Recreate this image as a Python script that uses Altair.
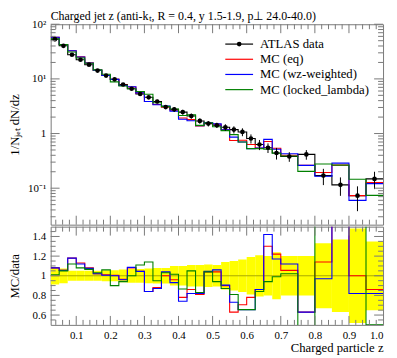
import altair as alt
import pandas as pd

# ---------------- values ----------------
bin_lo = [0.025, 0.05, 0.075, 0.1, 0.125, 0.15, 0.175, 0.2, 0.225, 0.25, 0.275, 0.3,
          0.325, 0.35, 0.375, 0.4, 0.425, 0.45, 0.475, 0.5, 0.525, 0.55, 0.575, 0.6,
          0.625, 0.65, 0.675, 0.7, 0.75, 0.8, 0.85, 0.9, 0.95]
bin_hi = [0.05, 0.075, 0.1, 0.125, 0.15, 0.175, 0.2, 0.225, 0.25, 0.275, 0.3, 0.325,
          0.35, 0.375, 0.4, 0.425, 0.45, 0.475, 0.5, 0.525, 0.55, 0.575, 0.6, 0.625,
          0.65, 0.675, 0.7, 0.75, 0.8, 0.85, 0.9, 0.95, 1.0]
data_val = [53.4, 40.3, 27.7, 22.4, 18.2, 14.2, 11.5, 9.8, 7.9, 6.6, 5.3, 4.6,
            3.86, 3.05, 2.77, 2.47, 2.09, 1.70, 1.52, 1.42, 1.30, 1.18, 1.07, 0.81,
            0.63, 0.55, 0.44, 0.38, 0.415, 0.17, 0.115, 0.073, 0.148]
data_rel_err = [0.09, 0.075, 0.05, 0.05, 0.05, 0.05, 0.055, 0.055, 0.065, 0.07, 0.07, 0.075,
                0.08, 0.08, 0.1, 0.1, 0.11, 0.11, 0.115, 0.11, 0.14, 0.15, 0.165, 0.19,
                0.21, 0.2, 0.24, 0.2, 0.2, 0.33, 0.37, 0.48, 0.35]
ratio_eq = [1.08, 1.055, 1.18, 1.13, 1.08, 1.02, 1.01, 1.005, 0.965, 1.08, 1.045, 0.84,
            0.88, 1.0, 0.96, 0.78, 0.86, 0.81, 1.04, 1.04, 0.9, 0.63, 0.705, 0.78,
            0.86, 1.3, 1.22, 1.055, 0.63, 1.14, 2.3, 1.0, 0.86]
ratio_wz = [1.08, 1.055, 1.18, 1.12, 1.075, 1.02, 1.005, 1.0, 0.96, 1.085, 1.045, 0.84,
            0.87, 1.04, 0.93, 0.74, 0.82, 0.82, 1.045, 1.06, 0.905, 0.73, 0.655, 0.655,
            0.86, 1.42, 1.17, 1.12, 0.63, 0.97, 2.5, 0.82, 0.82]
ratio_ll = [1.01, 1.05, 1.12, 1.08, 1.065, 1.03, 1.06, 0.9, 0.94, 1.0, 1.11, 1.14,
            0.95, 1.03, 1.015, 0.865, 1.05, 0.83, 1.04, 0.94, 0.87, 0.81, 0.655, 0.655,
            0.84, 0.94, 0.99, 1.02, 0.49, 1.63, 2.3, 2.0, 0.5]

series_names = ["ATLAS data", "MC (eq)", "MC (wz-weighted)", "MC (locked_lambda)"]
series_colors = ["#000000", "#ff0000", "#0000ff", "#008000"]
title_text = "Charged jet z (anti-kₜ, R = 0.4, y 1.5-1.9, p⊥ 24.0-40.0)"
x_label_vals = [0.1, 0.2, 0.3, 0.4, 0.5, 0.6, 0.7, 0.8, 0.9, 1.0]
y_main_label_vals = [0.1, 1, 10, 100]
y_ratio_label_vals = [0.6, 0.8, 1.0, 1.2, 1.4]

# ---------------- tables built from the lists ----------------
bins = pd.DataFrame({"lo": bin_lo, "hi": bin_hi, "data": data_val, "rel": data_rel_err})

ratios = {"ATLAS data": [1.0] * len(bin_lo), "MC (eq)": ratio_eq,
          "MC (wz-weighted)": ratio_wz, "MC (locked_lambda)": ratio_ll}
rows = []
for name in series_names:
    r = ratios[name]
    for i in range(len(bin_lo)):
        rows.append({"series": name, "x": bin_lo[i], "data": data_val[i], "ratio": r[i], "o": i})
    rows.append({"series": name, "x": bin_hi[-1], "data": data_val[-1], "ratio": r[-1], "o": len(bin_lo)})
steps = pd.DataFrame(rows)
mc_steps = steps[steps.series != "ATLAS data"]

x_major_ticks = [v for v in x_label_vals if v < 1.0]
x_minor = [round(0.04 + 0.02 * k, 3) for k in range(48)]
x_minor = [v for v in x_minor if abs(v * 10 - round(v * 10)) > 1e-6 and v < 1.0]
y_main_minor = [m * 10 ** e for e in (-2, -1, 0, 1) for m in range(2, 10) if m * 10 ** e > 0.0215]
y_ratio_minor = [0.55, 0.65, 0.7, 0.75, 0.85, 0.9, 0.95, 1.05, 1.1, 1.15, 1.25, 1.3, 1.35, 1.45]

# ---------------- style ----------------
W, HM, HR = 335, 202, 99
FONT = "Liberation Serif"
FRAME = "#7a7a7a"
MAJ, MINL = 9, 5

xs = alt.Scale(domain=[0.025, 1.0], nice=False, zero=False)
ys_main = alt.Scale(type="log", domain=[0.0215, 100], nice=False)
ys_ratio = alt.Scale(domain=[0.5, 1.5], nice=False, zero=False)
color_scale = alt.Scale(domain=series_names, range=series_colors)

ax_y_main = alt.Axis(
    values=y_main_label_vals, ticks=False, tickSize=0, domain=False, grid=False,
    labelExpr="datum.value == 100 ? '10²' : datum.value == 10 ? '10¹' : datum.value == 1 ? '1' : '10⁻¹'",
    labelPadding=5, minExtent=26, maxExtent=26, title="1/Nⱼₑₜ dN/dz", titlePadding=3)
ax_y_ratio = alt.Axis(
    values=y_ratio_label_vals, ticks=False, tickSize=0, domain=False, grid=False,
    labelExpr="datum.value == 1 ? '1' : format(datum.value, '.1f')",
    labelPadding=5, minExtent=26, maxExtent=26, title="MC/data", titlePadding=3)
ax_x_ratio = alt.Axis(
    values=x_label_vals, format=".1f", ticks=False, tickSize=0, domain=False, grid=False,
    labelPadding=5, title="Charged particle z", titleAnchor="end", titlePadding=1)


def xticks(vals, length, height, xaxis):
    df = pd.DataFrame({"t": vals})
    base = alt.Chart(df).mark_rule(color=FRAME, strokeWidth=1)
    bot = base.encode(x=alt.X("t:Q", scale=xs, axis=xaxis),
                      y=alt.value(height), y2=alt.value(height - length))
    top = base.encode(x=alt.X("t:Q", scale=xs, axis=xaxis),
                      y=alt.value(0), y2=alt.value(length))
    return [bot, top]


def yticks(vals, length, yscale, yaxis):
    df = pd.DataFrame({"t": vals})
    base = alt.Chart(df).mark_rule(color=FRAME, strokeWidth=1)
    left = base.encode(y=alt.Y("t:Q", scale=yscale, axis=yaxis),
                       x=alt.value(0), x2=alt.value(length))
    right = base.encode(y=alt.Y("t:Q", scale=yscale, axis=yaxis),
                        x=alt.value(W - length), x2=alt.value(W))
    return [left, right]


# ---------------- main panel ----------------
main_lines = alt.Chart(steps).transform_calculate(
    val="datum.data * datum.ratio"
).mark_line(interpolate="step-after", clip=True, strokeWidth=1.1).encode(
    x=alt.X("x:Q", scale=xs, axis=None),
    y=alt.Y("val:Q", scale=ys_main, axis=ax_y_main),
    color=alt.Color("series:N", scale=color_scale, legend=None),
    detail="series:N",
    order="o:Q",
)

main_err = alt.Chart(bins).transform_calculate(
    c="(datum.lo + datum.hi) / 2",
    e1="datum.data * (1 - datum.rel)",
    e2="datum.data * (1 + datum.rel)",
).mark_rule(color="#000000", strokeWidth=1, clip=True).encode(
    x=alt.X("c:Q", scale=xs, axis=None),
    y=alt.Y("e1:Q", scale=ys_main, axis=ax_y_main),
    y2="e2:Q",
)
main_pts = alt.Chart(bins).transform_calculate(
    c="(datum.lo + datum.hi) / 2"
).mark_point(filled=True, shape="circle", size=22, color="#000000", opacity=1).encode(
    x=alt.X("c:Q", scale=xs, axis=None),
    y=alt.Y("data:Q", scale=ys_main, axis=ax_y_main),
)

legend_layers = []
for i, (lab, col) in enumerate(zip(series_names, series_colors)):
    ly = 20 + 15.3 * i
    ldf = pd.DataFrame({"label": [lab]})
    legend_layers.append(alt.Chart(ldf).mark_rule(color=col, strokeWidth=1.2).encode(
        x=alt.value(176), x2=alt.value(204), y=alt.value(ly)))
    legend_layers.append(alt.Chart(ldf).mark_text(
        align="left", baseline="middle", font=FONT, fontSize=12.8, color="#000000").encode(
        x=alt.value(211), y=alt.value(ly), text="label:N"))
    if i == 0:
        legend_layers.append(alt.Chart(ldf).mark_point(
            filled=True, shape="circle", size=22, color="#000000", opacity=1).encode(
            x=alt.value(190), y=alt.value(ly)))

title_layer = alt.Chart(pd.DataFrame({"t": [title_text]})).mark_text(
    align="left", baseline="alphabetic", font=FONT, fontSize=12, color="#000000"
).encode(x=alt.value(0), y=alt.value(-4), text="t:N")

main = alt.layer(
    main_lines, main_err, main_pts,
    *xticks(x_major_ticks, MAJ, HM, None),
    *xticks(x_minor, MINL, HM, None),
    *yticks(y_main_label_vals, MAJ, ys_main, ax_y_main),
    *yticks(y_main_minor, MINL, ys_main, ax_y_main),
    *legend_layers, title_layer,
).properties(width=W, height=HM)

# ---------------- ratio panel ----------------
band = alt.Chart(bins).transform_calculate(
    b1="1 - datum.rel", b2="1 + datum.rel"
).mark_rect(color="#ffff00", clip=True).encode(
    x=alt.X("lo:Q", scale=xs, axis=ax_x_ratio),
    x2="hi:Q",
    y=alt.Y("b1:Q", scale=ys_ratio, axis=ax_y_ratio),
    y2="b2:Q",
)
unity = alt.Chart(pd.DataFrame({"u": [1.0]})).mark_rule(color="#a8a800", strokeWidth=1).encode(
    y=alt.Y("u:Q", scale=ys_ratio, axis=ax_y_ratio), x=alt.value(0), x2=alt.value(W))
ratio_lines = alt.Chart(mc_steps).mark_line(
    interpolate="step-after", clip=True, strokeWidth=1.1).encode(
    x=alt.X("x:Q", scale=xs, axis=ax_x_ratio),
    y=alt.Y("ratio:Q", scale=ys_ratio, axis=ax_y_ratio),
    color=alt.Color("series:N", scale=color_scale, legend=None),
    detail="series:N",
    order="o:Q",
)

ratio = alt.layer(
    band, unity, ratio_lines,
    *xticks(x_major_ticks, MAJ, HR, ax_x_ratio),
    *xticks(x_minor, MINL, HR, ax_x_ratio),
    *yticks(y_ratio_label_vals, MAJ, ys_ratio, ax_y_ratio),
    *yticks(y_ratio_minor, MINL, ys_ratio, ax_y_ratio),
).properties(width=W, height=HR)

chart = alt.vconcat(main, ratio, spacing=0).properties(
    padding={"left": 0, "top": 0, "right": 5, "bottom": 0}
).configure_view(stroke=FRAME, strokeWidth=1).configure_axis(
    labelFont=FONT, labelFontSize=11, labelColor="#000000",
    titleFont=FONT, titleFontSize=12.8, titleFontWeight="normal", titleColor="#000000",
)

chart.save("out.html", embed_options={"renderer": "svg", "actions": False})
